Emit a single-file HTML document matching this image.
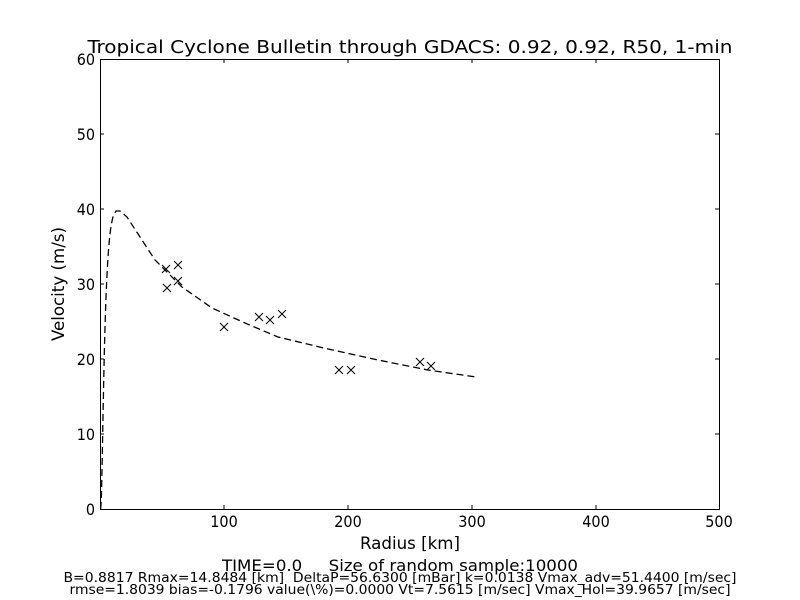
<!DOCTYPE html>
<html><head><meta charset="utf-8"><style>body{margin:0;background:#fff}svg{display:block}text{font-family:"DejaVu Sans Condensed","DejaVu Sans","Liberation Sans",sans-serif;fill:#000}</style></head>
<body>
<svg id="s" width="800" height="600" viewBox="0 0 800 600" xmlns="http://www.w3.org/2000/svg">
<rect width="800" height="600" fill="#fff"/>
<text x="410" y="53" font-size="18" text-anchor="middle" textLength="645" lengthAdjust="spacingAndGlyphs">Tropical Cyclone Bulletin through GDACS: 0.92, 0.92, R50, 1-min</text>
<g stroke="#000" stroke-width="1.3">
<path id="curve" fill="none" stroke-dasharray="7,4" d=""/>
</g>
<g stroke="#000" stroke-width="1" fill="none">
<path d="M162,265l8,8m0,-8l-8,8 M163,284l8,8m0,-8l-8,8 M174,261l8,8m0,-8l-8,8 M174,277l8,8m0,-8l-8,8 M220,323l8,8m0,-8l-8,8 M255,313l8,8m0,-8l-8,8 M266,316l8,8m0,-8l-8,8 M278,310l8,8m0,-8l-8,8 M335,366l8,8m0,-8l-8,8 M347,366l8,8m0,-8l-8,8 M416,358l8,8m0,-8l-8,8 M427,362l8,8m0,-8l-8,8"/>
<rect x="100.5" y="59.5" width="619" height="450"/>
<path d="M224,509v-4M348,509v-4M472,509v-4M596,509v-4M224,59v4M348,59v4M472,59v4M596,59v4
M100,434h4M100,359h4M100,284h4M100,209h4M100,134h4M715,434h4M715,359h4M715,284h4M715,209h4M715,134h4"/>
</g>
<g font-size="16" text-anchor="middle">
<text x="224" y="527">100</text><text x="348" y="527">200</text><text x="472" y="527">300</text><text x="596" y="527">400</text><text x="719" y="527">500</text>
</g>
<g font-size="16" text-anchor="end">
<text x="95" y="515">0</text><text x="95" y="440">10</text><text x="95" y="365">20</text><text x="95" y="290">30</text><text x="95" y="215">40</text><text x="95" y="140">50</text><text x="95" y="65">60</text>
</g>
<text x="410" y="549" font-size="17" text-anchor="middle" textLength="100" lengthAdjust="spacingAndGlyphs">Radius [km]</text>
<text transform="translate(64,284) rotate(-90)" font-size="17" text-anchor="middle" textLength="114" lengthAdjust="spacingAndGlyphs">Velocity (m/s)</text>
<text x="400" y="571" font-size="16" text-anchor="middle" textLength="356" lengthAdjust="spacingAndGlyphs" xml:space="preserve">TIME=0.0     Size of random sample:10000</text>
<text x="400" y="582" font-size="13" text-anchor="middle" textLength="673" lengthAdjust="spacingAndGlyphs" xml:space="preserve">B=0.8817 Rmax=14.8484 [km]  DeltaP=56.6300 [mBar] k=0.0138 Vmax_adv=51.4400 [m/sec]</text>
<text x="400" y="594" font-size="13" text-anchor="middle" textLength="661" lengthAdjust="spacingAndGlyphs">rmse=1.8039 bias=-0.1796 value(\%)=0.0000 Vt=7.5615 [m/sec] Vmax_Hol=39.9657 [m/sec]</text>
</svg>
<script>
var B=0.8817,Rm=14.8484,Vm=39.9657,d="";
for(var r=0.5;r<=11;r+=0.5){var x=Math.pow(Rm/r,B);var v=Vm*Math.sqrt(x*Math.exp(1-x));
var px=100+r*619/500,py=509-v*7.5;d+=(d?"L":"M")+px.toFixed(2)+","+py.toFixed(2);}
d+="L116,211L120,211L127,217L155,260L182,287L212,308L245,323L278,337L328,349L378,360L428,370L476,377";
document.getElementById("curve").setAttribute("d",d);
</script>
</body></html>
